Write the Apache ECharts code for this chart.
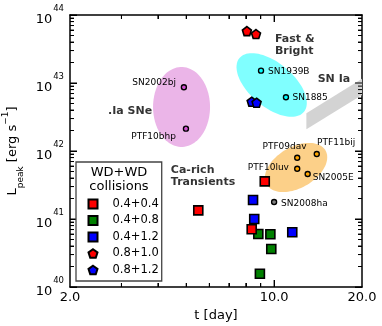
<!DOCTYPE html>
<html>
<head>
<meta charset="utf-8">
<script src="https://cdn.jsdelivr.net/npm/echarts@6/dist/echarts.min.js"></script>
<style>
html, body { margin: 0; padding: 0; background: #fff; }
#chart { width: 382px; height: 326px; }
</style>
</head>
<body>
<div id="chart"></div>
<script>
// WD+WD collision models: t [day], L [erg/s]
const sq44T = [5.50, 9.29, 8.38]
const sq44L = [1.34e41, 3.58e41, 7.05e40]
const sq48T = [8.83, 9.71, 9.78, 8.94]
const sq48L = [6.02e40, 5.96e40, 3.62e40, 1.57e40]
const sq412T = [8.47, 8.55, 11.54]
const sq412L = [1.90e41, 1.0e41, 6.37e40]
const pn810T = [8.07, 8.67]
const pn810L = [5.8e43, 5.25e43]
const pn812T = [8.38, 8.71]
const pn812L = [5.31e42, 5.13e42]

// observed transients
const dotIaNames = ['SN2002bj', 'PTF10bhp']
const dotIaT = [4.91, 4.99]
const dotIaL = [8.65e42, 2.13e42]
const fastNames = ['SN1939B', 'SN1885']
const fastT = [9.02, 10.98]
const fastL = [1.52e43, 6.17e42]
const caNames = ['PTF09dav', 'PTF11bij', 'PTF10luv', 'SN2005E']
const caT = [12.0, 14.0, 12.0, 13.03]
const caL = [7.96e41, 9.03e41, 5.49e41, 4.59e41]
const haNames = ['SN2008ha']
const haT = [10.0]
const haL = [1.78e41]

// shaded regions (ellipse centres) and the SN Ia band corners
const regionT = [4.82, 9.81, 11.89]
const regionL = [4.44e42, 9.35e42, 5.72e41]
const bandT = [12.9, 20, 20, 12.9]
const bandL = [3.58e42, 1.15e43, 6.66e42, 2.08e42]

// region captions
const captionText = ['.Ia SNe', 'Fast &\nBright', 'SN Ia', 'Ca-rich\nTransients']
const captionT = [2.70, 10.07, 14.1, 4.43]
const captionL = [3.92e42, 3.62e43, 1.15e43, 4.25e41]

// ticks
const xTickLabels = [2, 10, 20]
const xMajorTicks = [10]
const xMinorTicks = [3, 4, 5, 6, 7, 8, 9]
const yTickLabels = [1e40, 1e41, 1e42, 1e43, 1e44]

const FONT = 'DejaVu Sans'
const yMinorTicks = []
for (let e = 40; e < 44; e++) {
  for (let m = 2; m < 10; m++) yMinorTicks.push(m * Math.pow(10, e))
}

const pts = (t, l) => t.map((v, i) => [v, l[i]])
const named = (names, t, l) => names.map((n, i) => ({ name: n, value: [t[i], l[i]] }))

// ellipse looks (pixels), same order as regionT
const ellipseLook = [
  { rx: 28.5, ry: 40, rot: 0, color: '#ebb5e8' },
  { rx: 42, ry: 22, rot: 40, color: '#80ffff' },
  { rx: 34, ry: 20.5, rot: -30, color: '#fcd089' }
]
// label placement per point: [align, dx, dy]
const labelPlace = {
  SN2002bj: ['right', -8, -4.6],
  PTF10bhp: ['right', -10, 8],
  SN1939B: ['left', 7, 1],
  SN1885: ['left', 6.5, 0.4],
  PTF09dav: ['right', 9.4, -11],
  PTF11bij: ['left', 0.3, -11.7],
  PTF10luv: ['right', -8.3, -1],
  SN2005E: ['left', 5, 3.7],
  SN2008ha: ['left', 7, 2]
}

const pentagon = 'path://M0,-1L0.951,-0.309L0.588,0.809L-0.588,0.809L-0.951,-0.309Z'

function modelSeries (name, data, symbol, color, size) {
  return {
    name: name,
    type: 'scatter',
    data: data,
    symbol: symbol,
    symbolSize: size,
    itemStyle: { color: color, borderColor: '#000', borderWidth: 1.6, opacity: 1 },
    z: 4
  }
}

function sneSeries (data, color) {
  return {
    type: 'scatter',
    data: data.map(d => {
      const p = labelPlace[d.name]
      return {
        name: d.name,
        value: d.value,
        label: { align: p[0], offset: [p[1], p[2]] }
      }
    }),
    symbol: 'circle',
    symbolSize: 5,
    itemStyle: { color: color, borderColor: '#000', borderWidth: 1.4, opacity: 1 },
    label: {
      show: true,
      position: 'inside',
      verticalAlign: 'middle',
      formatter: '{b}',
      fontSize: 9,
      fontFamily: FONT,
      color: '#000'
    },
    z: 3
  }
}

// inward tick marks as thin polygons, one series per frame side
const MAJOR = 7
const MINOR = 4
function tickSide (side) {
  const horiz = side === 'bottom' || side === 'top'
  const vals = horiz ? xMajorTicks.concat(xMinorTicks) : yTickLabels.concat(yMinorTicks)
  const nMajor = horiz ? xMajorTicks.length : yTickLabels.length
  return {
    type: 'custom',
    data: vals.map(v => horiz ? [v, 1e42] : [4, v]),
    z: 3,
    silent: true,
    renderItem: function (params, api) {
      const len = params.dataIndex < nMajor ? MAJOR : MINOR
      const lo = api.coord([2, 1e40])
      const hi = api.coord([20, 1e44])
      let poly
      if (horiz) {
        const x = api.coord([api.value(0), 1e42])[0]
        const y0 = side === 'bottom' ? lo[1] : hi[1]
        const y1 = side === 'bottom' ? lo[1] - len : hi[1] + len
        poly = [[x - 0.5, y0], [x + 0.5, y0], [x + 0.5, y1], [x - 0.5, y1]]
      } else {
        const y = api.coord([4, api.value(1)])[1]
        const x0 = side === 'left' ? lo[0] : hi[0]
        const x1 = side === 'left' ? lo[0] + len : hi[0] - len
        poly = [[x0, y - 0.5], [x1, y - 0.5], [x1, y + 0.5], [x0, y + 0.5]]
      }
      return { type: 'polygon', shape: { points: poly }, style: { fill: '#000' } }
    }
  }
}

const axisLine = { show: true, onZero: false, lineStyle: { color: '#000', width: 1.5 } }

function frameAx (pos, lo, hi) {
  return {
    type: 'log',
    logBase: 10,
    min: lo,
    max: hi,
    position: pos,
    splitLine: { show: false },
    axisLine: axisLine,
    axisTick: { show: false },
    axisLabel: { show: false }
  }
}

// tick-only value axes in log10 space (labels kept but invisible)
function tickAx (pos, lo, hi, ticks, len) {
  return {
    type: 'value',
    min: Math.log10(lo),
    max: Math.log10(hi),
    position: pos,
    splitLine: { show: false },
    axisLine: { show: false, onZero: false },
    axisTick: { show: true, inside: true, length: len, customValues: ticks.map(v => Math.log10(v)), lineStyle: { color: '#000', width: 1 } },
    axisLabel: { show: true, color: 'rgba(0,0,0,0)' }
  }
}

const xMain = {
  type: 'log',
  logBase: 10,
  min: 2,
  max: 20,
  position: 'bottom',
  splitLine: { show: false },
  axisLine: axisLine,
  axisTick: { show: false },
  axisLabel: {
    show: true,
    customValues: xTickLabels,
    formatter: v => Number(v).toFixed(1),
    align: 'center',
    margin: 4,
    fontSize: 13,
    fontFamily: FONT,
    color: '#000'
  },
  name: 't [day]',
  nameLocation: 'middle',
  nameGap: 22,
  nameTextStyle: { fontSize: 13, fontFamily: FONT, color: '#000' }
}

const yMain = {
  type: 'log',
  logBase: 10,
  min: 1e40,
  max: 1e44,
  position: 'left',
  splitLine: { show: false },
  axisLine: axisLine,
  axisTick: { show: false },
  axisLabel: {
    show: true,
    customValues: yTickLabels,
    margin: 6,
    formatter: v => '{b|10}{e|' + Math.round(Math.log10(v)) + '}',
    rich: {
      b: { fontSize: 13, lineHeight: 22, verticalAlign: 'bottom', fontFamily: FONT, color: '#000' },
      e: { fontSize: 8.5, verticalAlign: 'top', fontFamily: FONT, color: '#000', padding: [0, 0, 0, 1] }
    }
  },
  name: '{a|L}{s|peak}{a| [erg s}{p|\u22121}{a|]}',
  nameLocation: 'middle',
  nameGap: 40,
  nameTextStyle: {
    rich: {
      a: { fontSize: 13, lineHeight: 24, fontFamily: FONT, color: '#000' },
      s: { fontSize: 9, verticalAlign: 'bottom', fontFamily: FONT, color: '#000' },
      p: { fontSize: 9, verticalAlign: 'top', fontFamily: FONT, color: '#000' }
    }
  }
}

const chart = echarts.init(document.getElementById('chart'), null, { renderer: 'canvas' })

const option = {
  animation: false,
  backgroundColor: '#fff',
  grid: { left: 70, right: 20, top: 15, bottom: 39, containLabel: false, outerBoundsMode: 'none' },
  xAxis: [
    xMain,
    frameAx('top', 2, 20),
    tickAx('bottom', 2, 20, xMajorTicks, MAJOR),
    tickAx('bottom', 2, 20, xMinorTicks, MINOR),
    tickAx('top', 2, 20, xMajorTicks, MAJOR),
    tickAx('top', 2, 20, xMinorTicks, MINOR)
  ],
  yAxis: [
    yMain,
    frameAx('right', 1e40, 1e44),
    tickAx('left', 1e40, 1e44, yTickLabels, MAJOR),
    tickAx('left', 1e40, 1e44, yMinorTicks, MINOR),
    tickAx('right', 1e40, 1e44, yTickLabels, MAJOR),
    tickAx('right', 1e40, 1e44, yMinorTicks, MINOR)
  ],
  legend: {
    data: ['0.4+0.4', '0.4+0.8', '0.4+1.2', '0.8+1.0', '0.8+1.2'],
    orient: 'vertical',
    left: 76,
    top: 162,
    padding: [36, 3, 5, 11.5],
    itemWidth: 9,
    itemHeight: 9,
    itemGap: 4.5,
    selectedMode: false,
    backgroundColor: '#fff',
    borderColor: '#444',
    borderWidth: 1.3,
    textStyle: { fontSize: 11.5, lineHeight: 12, fontFamily: FONT, color: '#000', padding: [0, 0, 0, 10] }
  },
  graphic: [
    { type: 'text', x: 119, y: 172.5, z: 100, style: { text: 'WD+WD', align: 'center', verticalAlign: 'middle', fontSize: 13, fontFamily: FONT, fill: '#000' } },
    { type: 'text', x: 119, y: 186.7, z: 100, style: { text: 'collisions', align: 'center', verticalAlign: 'middle', fontSize: 13, fontFamily: FONT, fill: '#000' } }
  ],
  series: [
    {
      type: 'custom',
      data: pts(regionT, regionL),
      z: 1,
      silent: true,
      renderItem: function (params, api) {
        const c = api.coord([api.value(0), api.value(1)])
        const e = ellipseLook[params.dataIndex]
        const th = e.rot * Math.PI / 180
        const poly = []
        for (let i = 0; i < 90; i++) {
          const a = i / 90 * Math.PI * 2
          const dx = e.rx * Math.cos(a)
          const dy = e.ry * Math.sin(a)
          poly.push([c[0] + dx * Math.cos(th) - dy * Math.sin(th), c[1] + dx * Math.sin(th) + dy * Math.cos(th)])
        }
        return { type: 'polygon', shape: { points: poly }, style: { fill: e.color } }
      }
    },
    {
      type: 'custom',
      data: pts(bandT, bandL),
      z: 1,
      silent: true,
      renderItem: function (params, api) {
        if (params.dataIndex !== 0) return null
        const poly = bandT.map((t, i) => api.coord([t, bandL[i]]))
        return { type: 'polygon', shape: { points: poly }, style: { fill: '#d3d3d3' } }
      }
    },
    tickSide('bottom'),
    tickSide('top'),
    tickSide('left'),
    tickSide('right'),
    sneSeries(named(dotIaNames, dotIaT, dotIaL), '#d050d0'),
    sneSeries(named(fastNames, fastT, fastL), '#00ffff'),
    sneSeries(named(caNames, caT, caL), '#ffa500'),
    sneSeries(named(haNames, haT, haL), '#808080'),
    modelSeries('0.4+0.8', pts(sq48T, sq48L), 'rect', '#008000', 9),
    modelSeries('0.4+1.2', pts(sq412T, sq412L), 'rect', '#0000ff', 9),
    modelSeries('0.4+0.4', pts(sq44T, sq44L), 'rect', '#ff0000', 9),
    modelSeries('0.8+1.0', pts(pn810T, pn810L), pentagon, '#ff0000', 9),
    modelSeries('0.8+1.2', pts(pn812T, pn812L), pentagon, '#0000ff', 9),
    {
      type: 'scatter',
      data: named(captionText, captionT, captionL),
      symbolSize: 0,
      silent: true,
      z: 5,
      label: {
        show: true,
        position: 'inside',
        align: 'left',
        verticalAlign: 'middle',
        formatter: '{b}',
        fontSize: 11,
        lineHeight: 12,
        fontWeight: 'bold',
        fontFamily: FONT,
        color: '#000'
      }
    }
  ]
}

chart.setOption(option)
</script>
</body>
</html>
